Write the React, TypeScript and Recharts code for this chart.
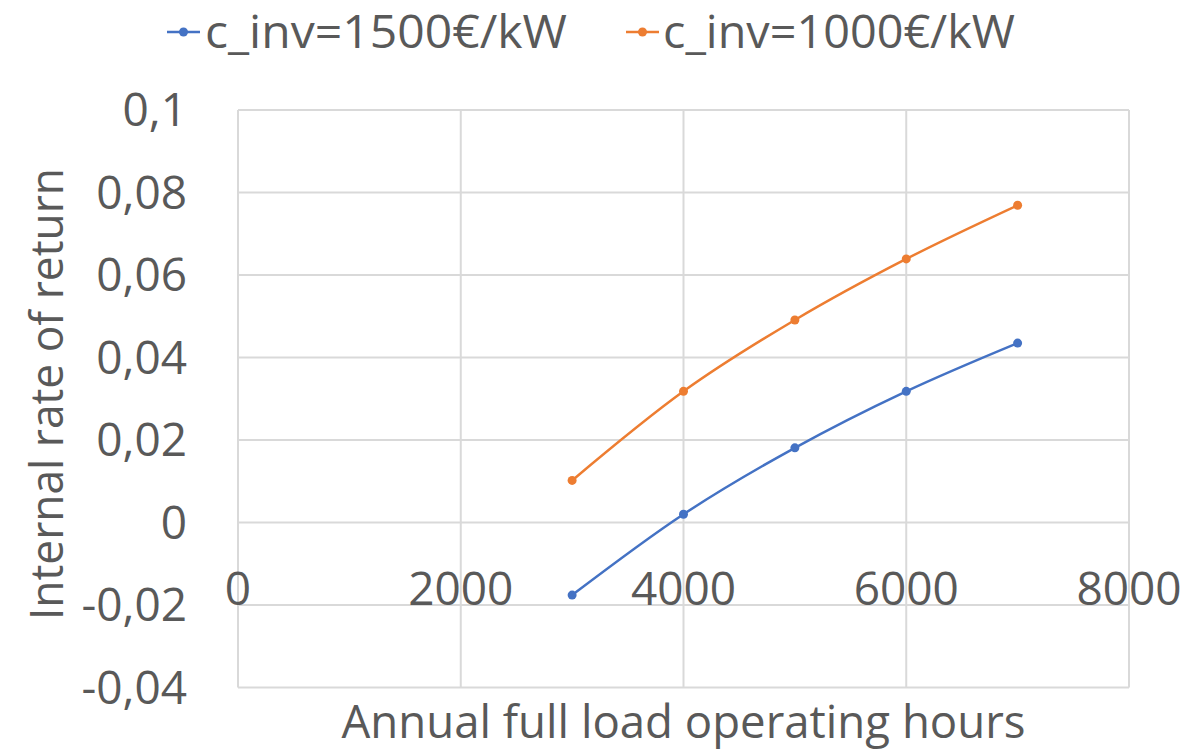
import React from 'react';
import { LineChart, Line, XAxis, YAxis, CartesianGrid, Legend } from 'recharts';

const hours = [3000, 4000, 5000, 6000, 7000];
const irr1500 = [-0.0176, 0.002, 0.0181, 0.0318, 0.0435];
const irr1000 = [0.0102, 0.0318, 0.0491, 0.0639, 0.0769];
const seriesNames = ['c_inv=1500€/kW', 'c_inv=1000€/kW'];
const seriesColors = ['#4472C4', '#ED7D31'];
const xTicks = [0, 2000, 4000, 6000, 8000];
const yTicks = [-0.04, -0.02, 0, 0.02, 0.04, 0.06, 0.08, 0.1];
const xTitle = 'Annual full load operating hours';
const yTitle = 'Internal rate of return';

const data = hours.map((h, i) => ({ h, a: irr1500[i], b: irr1000[i] }));

const FONT = "'Open Sans', 'Noto Sans', sans-serif";
const TXT = '#595959';

const XTick = (props: any) => {
  const { x, y, payload } = props;
  return (
    <text x={x} y={y - 82.5} textAnchor="middle" fontSize={46} fontFamily={FONT} fill={TXT}>
      {payload.value}
    </text>
  );
};

const YTick = (props: any) => {
  const { x, y, payload } = props;
  return (
    <text x={x} y={y} dy="0.357em" textAnchor="end" fontSize={46} fontFamily={FONT} fill={TXT}>
      {String(payload.value).replace('.', ',')}
    </text>
  );
};

const LegendContent = () => {
  const lineStart = [167, 626];
  const textStart = [205, 663];
  const widths = [362, 352];
  return (
    <svg width={1204} height={60} style={{ display: 'block' }}>
      {seriesNames.map((name, i) => (
        <g key={name}>
          <line x1={lineStart[i]} x2={lineStart[i] + 33} y1={32} y2={32} stroke={seriesColors[i]} strokeWidth={2.5} />
          <circle cx={lineStart[i] + 16.5} cy={32} r={4.5} fill={seriesColors[i]} />
          <text
            x={textStart[i]}
            y={48}
            fontSize={46}
            fontFamily={FONT}
            fill={TXT}
            textLength={widths[i]}
            lengthAdjust="spacingAndGlyphs"
          >
            {name}
          </text>
        </g>
      ))}
    </svg>
  );
};

const XTitle = (p: any) => {
  const vb = p.viewBox || { x: 238, y: 687.5, width: 892 };
  return (
    <text
      x={vb.x + vb.width / 2}
      y={vb.y + 50.5}
      textAnchor="middle"
      fontSize={45}
      fontFamily={FONT}
      fill={TXT}
      textLength={684}
      lengthAdjust="spacingAndGlyphs"
    >
      {xTitle}
    </text>
  );
};

const YTitle = () => (
  <text
    x={63}
    y={394}
    transform="rotate(-90, 63, 394)"
    textAnchor="middle"
    fontSize={45}
    fontFamily={FONT}
    fill={TXT}
    textLength={452}
    lengthAdjust="spacingAndGlyphs"
  >
    {yTitle}
  </text>
);

export default function App() {
  return (
    <div style={{ position: 'absolute', left: 0, top: 0, width: 1204, height: 750, background: '#fff' }}>
      <LineChart width={1204} height={750} data={data} margin={{ top: 50, right: 75, bottom: 0, left: 0 }}>
        <CartesianGrid stroke="#D9D9D9" strokeWidth={2} />
        <XAxis
          dataKey="h"
          type="number"
          domain={[0, 8000]}
          ticks={xTicks}
          height={62.5}
          axisLine={false}
          tickLine={false}
          tickSize={0}
          tickMargin={0}
          tick={<XTick />}
          interval={0}
          label={{ content: <XTitle /> } as any}
        />
        <YAxis
          type="number"
          domain={[-0.04, 0.1]}
          ticks={yTicks}
          width={238}
          axisLine={false}
          tickLine={false}
          tickSize={0}
          tickMargin={51}
          tick={<YTick />}
          interval={0}
          label={{ content: <YTitle /> } as any}
        />
        <Legend verticalAlign="top" content={<LegendContent />} wrapperStyle={{ top: 0, left: 0, width: 1204 }} />
        <Line
          type="monotone"
          dataKey="a"
          name={seriesNames[0]}
          stroke={seriesColors[0]}
          strokeWidth={2.5}
          dot={{ r: 4.5, fill: seriesColors[0], stroke: seriesColors[0], strokeWidth: 0 }}
          activeDot={false}
          isAnimationActive={false}
        />
        <Line
          type="monotone"
          dataKey="b"
          name={seriesNames[1]}
          stroke={seriesColors[1]}
          strokeWidth={2.5}
          dot={{ r: 4.5, fill: seriesColors[1], stroke: seriesColors[1], strokeWidth: 0 }}
          activeDot={false}
          isAnimationActive={false}
        />
      </LineChart>
    </div>
  );
}
